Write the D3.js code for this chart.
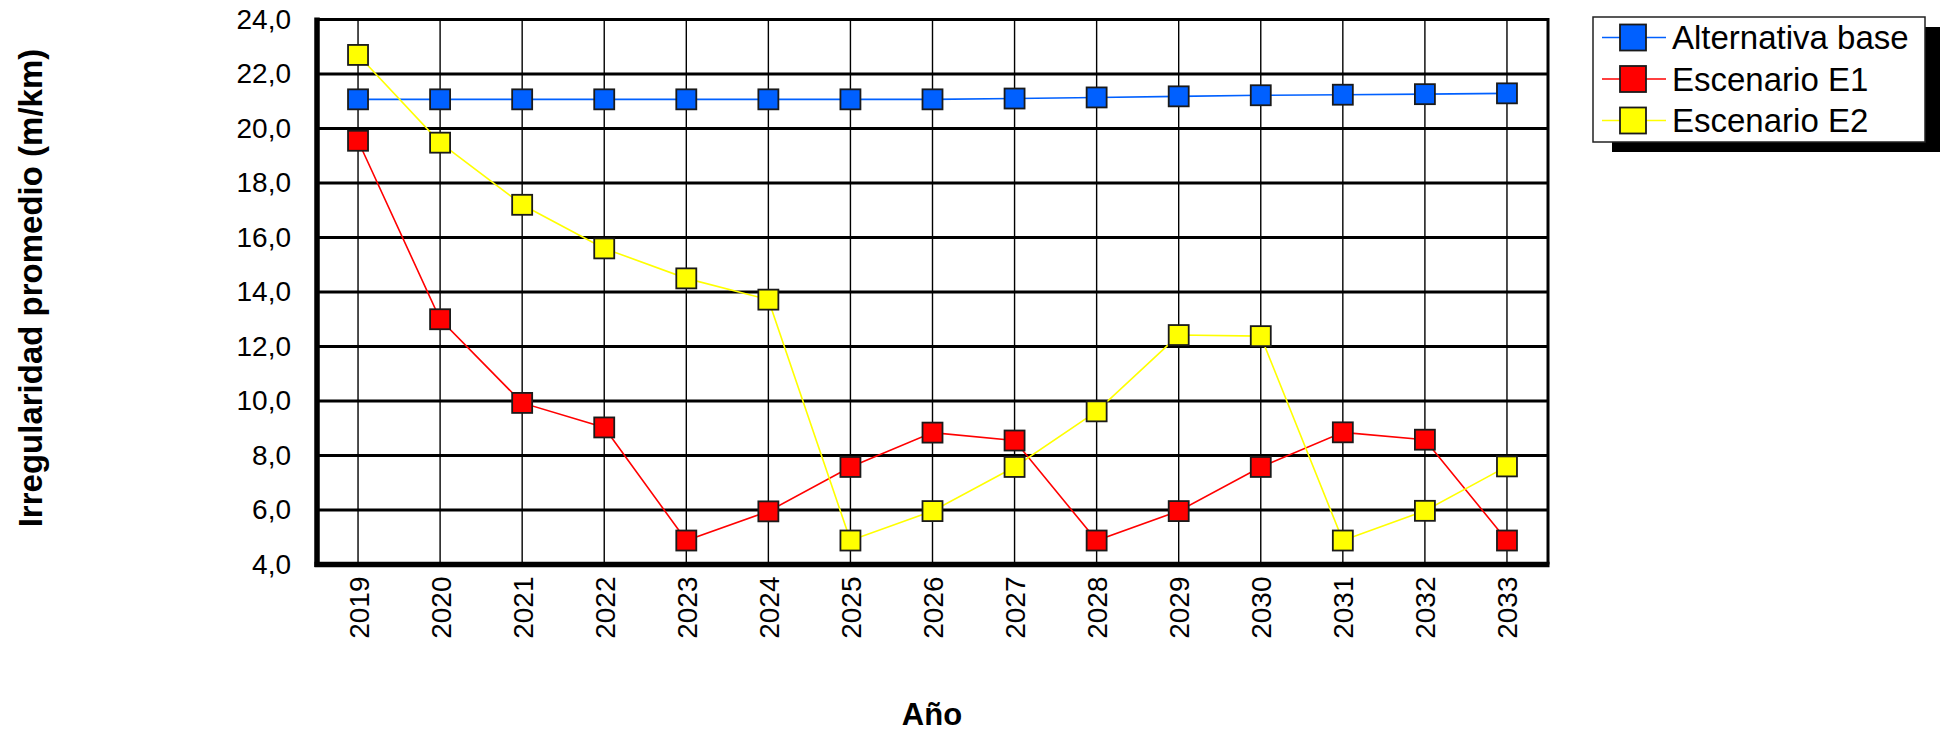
<!DOCTYPE html>
<html><head><meta charset="utf-8">
<script src="https://cdn.jsdelivr.net/npm/d3@7"></script>
<style>
html,body{margin:0;padding:0;background:#fff;}
svg{display:block;font-family:"Liberation Sans",Arial,sans-serif;}
</style></head>
<body>
<svg id="chart" width="1940" height="733"></svg>
<script>
const years = ["2019","2020","2021","2022","2023","2024","2025","2026","2027","2028","2029","2030","2031","2032","2033"];
const baseValues = [21.07,21.07,21.07,21.07,21.07,21.07,21.07,21.07,21.10,21.14,21.18,21.22,21.24,21.26,21.29];
const e1Values = [19.55,13.0,9.93,9.03,4.88,5.95,7.58,8.84,8.55,4.88,5.96,7.58,8.85,8.58,4.88];
const e2Values = [22.70,19.48,17.2,15.6,14.5,13.72,4.88,5.96,7.58,9.62,12.42,12.38,4.88,5.97,7.6];
const yTicks = [4,6,8,10,12,14,16,18,20,22,24];
const seriesNames = ["Alternativa base","Escenario E1","Escenario E2"];
const seriesColors = ["#0060ff","#ff0000","#ffff00"];
const yTitle = "Irregularidad promedio (m/km)";
const xTitle = "Año";

const series = [baseValues, e1Values, e2Values].map((v,i)=>({name:seriesNames[i], color:seriesColors[i], values:v}));

const svg = d3.select("#chart");
const X0 = 317, X1 = 1548, Y0 = 19.5, Y1 = 564.5;

const x = d3.scalePoint().domain(years).range([X0, X1]).padding(0.5);
const y = d3.scaleLinear().domain([4,24]).range([Y1, Y0]);
const fmt = v => d3.format(".1f")(v).replace(".", ",");

// horizontal gridlines
svg.append("g").selectAll("line").data(yTicks).join("line")
  .attr("x1", X0).attr("x2", X1)
  .attr("y1", d=>y(d)).attr("y2", d=>y(d))
  .attr("stroke","#000").attr("stroke-width",3);
// vertical gridlines
svg.append("g").selectAll("line").data(years).join("line")
  .attr("x1", d=>x(d)).attr("x2", d=>x(d))
  .attr("y1", Y0).attr("y2", Y1)
  .attr("stroke","#000").attr("stroke-width",1.4);
// right border
svg.append("line").attr("x1",X1).attr("x2",X1).attr("y1",Y0-1.5).attr("y2",Y1)
  .attr("stroke","#000").attr("stroke-width",3);

// axes via d3
const yAxis = svg.append("g").attr("transform",`translate(${X0},0)`)
  .call(d3.axisLeft(y).tickValues(yTicks).tickFormat(fmt).tickSize(0).tickPadding(26));
yAxis.select(".domain").attr("stroke","#000").attr("stroke-width",5.5).attr("d",`M0,${Y0-2}V${Y1+2.5}`);
yAxis.selectAll("text").attr("font-size",28).attr("fill","#000").attr("font-family","Liberation Sans, Arial, sans-serif");

const xAxis = svg.append("g").attr("transform",`translate(0,${Y1})`)
  .call(d3.axisBottom(x).tickSize(0).tickPadding(0));
xAxis.select(".domain").attr("stroke","#000").attr("stroke-width",5.5).attr("d",`M${X0-2.5},0H${X1+1.5}`);
xAxis.selectAll(".tick text")
  .attr("font-size",28).attr("fill","#000").attr("font-family","Liberation Sans, Arial, sans-serif")
  .attr("text-anchor","end").attr("dy",null)
  .attr("transform","translate(10,12) rotate(-90)")
  .attr("x",0).attr("y",0);

// lines
const line = d3.line().x((d,i)=>x(years[i])).y(d=>y(d));
svg.append("g").selectAll("path").data(series).join("path")
  .attr("d", d=>line(d.values)).attr("fill","none")
  .attr("stroke", d=>d.color).attr("stroke-width",1.6);

// markers
const ms = 20;
series.forEach(s=>{
  svg.append("g").selectAll("rect").data(s.values).join("rect")
    .attr("x",(d,i)=>x(years[i])-ms/2).attr("y",d=>y(d)-ms/2)
    .attr("width",ms).attr("height",ms)
    .attr("fill",s.color).attr("stroke","#1a1a1a").attr("stroke-width",1.8);
});

// axis titles
svg.append("text").attr("transform","translate(42,288) rotate(-90)")
  .attr("text-anchor","middle").attr("font-size",33).attr("font-weight","bold")
  .text(yTitle);
svg.append("text").attr("x",932).attr("y",725).attr("text-anchor","middle")
  .attr("font-size",31).attr("font-weight","bold").text(xTitle);

// legend
const LX = 1593, LY = 17, LW = 332, LH = 125;
svg.append("rect").attr("x",LX+19).attr("y",LY+10).attr("width",LW).attr("height",LH).attr("fill","#000");
svg.append("rect").attr("x",LX).attr("y",LY).attr("width",LW).attr("height",LH)
  .attr("fill","#fff").attr("stroke","#222").attr("stroke-width",1.5);
const lg = svg.append("g").selectAll("g").data(series).join("g")
  .attr("transform",(d,i)=>`translate(0,${37.5 + i*41.5})`);
lg.append("line").attr("x1",1602).attr("x2",1666).attr("y1",0).attr("y2",0)
  .attr("stroke",d=>d.color).attr("stroke-width",1.6);
lg.append("rect").attr("x",1620).attr("y",-13).attr("width",26).attr("height",26)
  .attr("fill",d=>d.color).attr("stroke","#1a1a1a").attr("stroke-width",1.8);
lg.append("text").attr("x",1672).attr("y",11.8).attr("font-size",33).text(d=>d.name);
</script>
</body></html>
